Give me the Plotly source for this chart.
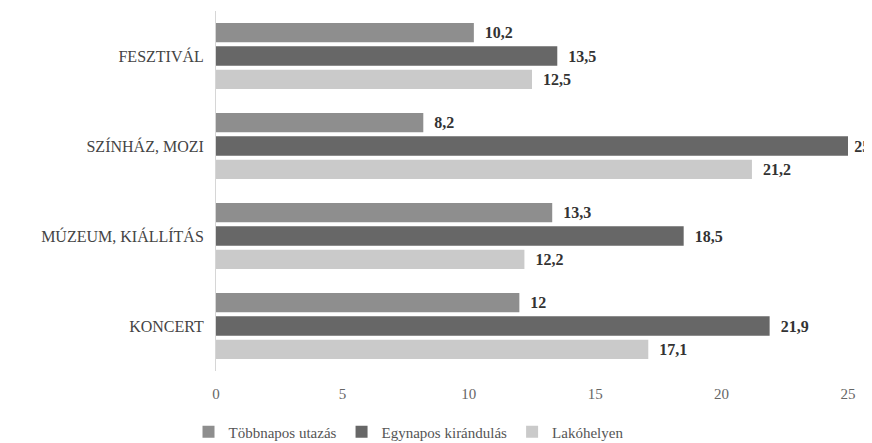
import plotly.graph_objects as go

categories = ["FESZTIVÁL", "SZÍNHÁZ, MOZI", "MÚZEUM, KIÁLLÍTÁS", "KONCERT"]
tobbnapos = [10.2, 8.2, 13.3, 12]
egynapos = [13.5, 25, 18.5, 21.9]
lakohelyen = [12.5, 21.2, 12.2, 17.1]
series_names = ["Többnapos utazás", "Egynapos kirándulás", "Lakóhelyen"]
colors = ["#8e8e8e", "#676767", "#cacaca"]
x_ticks = [0, 5, 10, 15, 20, 25]

def fmt(v):
    return ("%g" % v).replace(".", ",")

x_max = 25
fig = go.Figure()
for name, vals, col in zip(series_names, [tobbnapos, egynapos, lakohelyen], colors):
    # labels at the very right edge get a thinner gap so they stay on the page
    templates = [("\u2009" if v >= x_max else "\u2002") + "<b>%{text}</b>" for v in vals]
    fig.add_trace(go.Bar(
        y=categories, x=vals, name=name, orientation="h",
        marker=dict(color=col, line=dict(width=0)),
        text=[fmt(v) for v in vals], textposition="outside",
        textfont=dict(family="Liberation Serif", size=16, color="#333333"),
        texttemplate=templates, cliponaxis=False,
    ))

fig.update_layout(
    width=872, height=443,
    barmode="group", bargap=0.22, bargroupgap=0.17,
    plot_bgcolor="white", paper_bgcolor="white",
    margin=dict(l=208, r=32, t=3, b=80, autoexpand=False),
    font=dict(family="Liberation Serif", size=15, color="#444444"),
    showlegend=True,
    legend=dict(orientation="h", xref="container", x=0.207, xanchor="left",
                yref="container", y=0.043, yanchor="middle",
                font=dict(size=15, color="#555555"), traceorder="normal",
                itemwidth=30),
    xaxis=dict(range=[0, x_max], tickvals=x_ticks, showgrid=False, zeroline=False,
               showline=False, ticks="", automargin=False, ticklabelstandoff=12,
               tickfont=dict(size=15, color="#666666")),
    yaxis=dict(autorange="reversed", showline=True, linecolor="#d6d6d6", linewidth=1,
               ticks="", ticklabelstandoff=8, automargin=False,
               tickfont=dict(size=16, color="#444444")),
)
fig.write_html("out.html")
